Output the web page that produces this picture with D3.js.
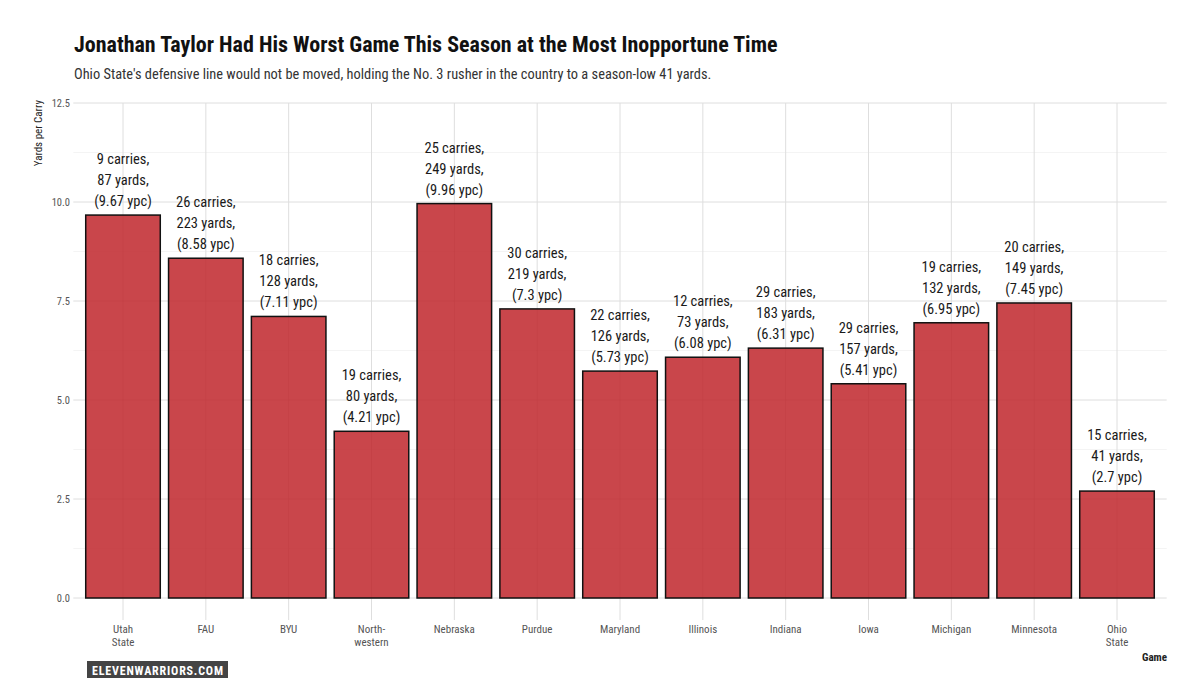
<!DOCTYPE html>
<html><head><meta charset="utf-8">
<script src="https://cdn.jsdelivr.net/npm/d3@7"></script>
<style>
html,body{margin:0;padding:0;background:#fff;}
svg text{font-family:"Roboto Condensed","Liberation Sans Narrow","Roboto",sans-serif;}
</style></head>
<body><svg id="c" width="1200" height="695"></svg>
<script>
const games = ["Utah\nState","FAU","BYU","North-\nwestern","Nebraska","Purdue","Maryland","Illinois","Indiana","Iowa","Michigan","Minnesota","Ohio\nState"];
const carries = [9,26,18,19,25,30,22,12,29,29,19,20,15];
const yards = [87,223,128,80,249,219,126,73,183,157,132,149,41];
const ypc = [9.67,8.58,7.11,4.21,9.96,7.3,5.73,6.08,6.31,5.41,6.95,7.45,2.7];
const yTicks = [0,2.5,5,7.5,10,12.5];
const yMinor = [1.25,3.75,6.25,8.75,11.25];

const svg = d3.select("#c");
const x = d3.scalePoint().domain(games).range([73.3,1166.7]).padding(0.6);
const step = x.step();
const y = d3.scaleLinear().domain([0,12.5]).range([598,103]);

// grid
const g = svg.append("g");
g.selectAll(".ym").data(yMinor).join("line").attr("x1",73.3).attr("x2",1166.7)
 .attr("y1",d=>y(d)).attr("y2",d=>y(d)).attr("stroke","#ececec").attr("stroke-width",0.6);
g.selectAll(".yM").data(yTicks).join("line").attr("x1",73.3).attr("x2",1166.7)
 .attr("y1",d=>y(d)).attr("y2",d=>y(d)).attr("stroke","#dedede").attr("stroke-width",1);
g.selectAll(".xM").data(games).join("line").attr("x1",d=>x(d)).attr("x2",d=>x(d))
 .attr("y1",103).attr("y2",620).attr("stroke","#dedede").attr("stroke-width",1);

// bars
const bw = step*0.9;
svg.append("g").selectAll("rect").data(games).join("rect")
 .attr("x",d=>x(d)-bw/2).attr("width",bw)
 .attr("y",(d,i)=>y(ypc[i])).attr("height",(d,i)=>y(0)-y(ypc[i]))
 .attr("fill","#bf2328").attr("fill-opacity",0.84)
 .attr("stroke","#111").attr("stroke-width",1.5);

// value labels
const lab = svg.append("g");
games.forEach((d,i)=>{
  const lines = [carries[i]+" carries,", yards[i]+" yards,", "("+ypc[i]+" ypc)"];
  const base = y(ypc[i]) - 9;
  lines.forEach((t,j)=>{
    lab.append("text").attr("x",x(d)).attr("y",base-(2-j)*21)
      .attr("text-anchor","middle").attr("font-size",14.5).attr("fill","#1a1a1a").text(t);
  });
});

// y axis ticks
svg.append("g").selectAll("text").data(yTicks).join("text")
 .attr("x",70).attr("y",d=>y(d)+3.8).attr("text-anchor","end")
 .attr("font-size",10.5).attr("fill","#555").text(d=>d3.format(".1f")(d));

// x axis labels
const xl = svg.append("g");
games.forEach(d=>{
  d.split("\n").forEach((t,j)=>{
    xl.append("text").attr("x",x(d)).attr("y",633+j*12.5).attr("text-anchor","middle")
      .attr("font-size",11).attr("fill","#555").text(t);
  });
});

// axis titles
svg.append("text").attr("transform","translate(42,100) rotate(-90)").attr("text-anchor","end")
 .attr("font-size",11).attr("fill","#222").text("Yards per Carry");
svg.append("text").attr("x",1167).attr("y",661).attr("text-anchor","end")
 .attr("font-size",11).attr("font-weight","bold").attr("fill","#222").text("Game");

// title
svg.append("text").attr("x",74).attr("y",52).attr("font-size",22).attr("font-weight","bold")
 .attr("fill","#111").text("Jonathan Taylor Had His Worst Game This Season at the Most Inopportune Time");
svg.append("text").attr("x",74).attr("y",79).attr("font-size",14.4).attr("fill","#333")
 .text("Ohio State's defensive line would not be moved, holding the No. 3 rusher in the country to a season-low 41 yards.");

// logo
svg.append("rect").attr("x",87).attr("y",661).attr("width",141).attr("height",17).attr("fill","#444");
svg.append("text").attr("x",92).attr("y",674.5).attr("font-size",12)
 .attr("font-weight","bold").attr("textLength",131).attr("lengthAdjust","spacing")
 .attr("fill","#fff").text("ELEVENWARRIORS.COM");
</script>
</body></html>
